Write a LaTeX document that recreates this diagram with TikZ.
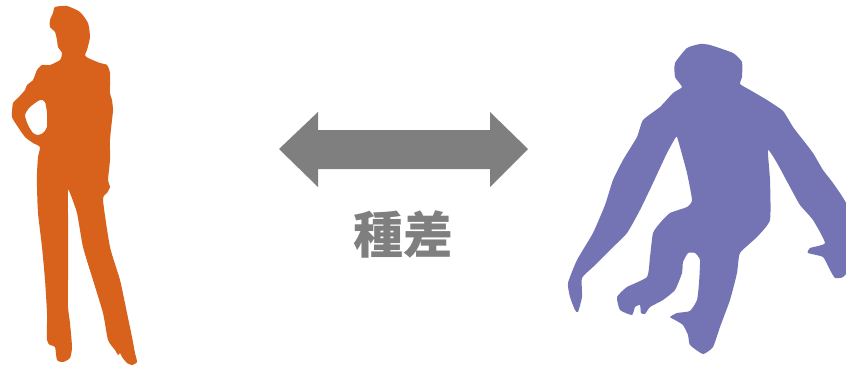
\documentclass[tikz,border=0pt]{standalone}
\usepackage{fontspec}
\newfontfamily\cjk{Noto Sans CJK JP}
\begin{document}
\begin{tikzpicture}[x=1pt,y=-1pt,
  woman/.style={fill=womanorange,draw=none},
  ape/.style={fill=apepurple,draw=none},
  arrowshape/.style={fill=arrowgray,draw=none},
  label/.style={text=arrowgray,font=\cjk\bfseries\fontsize{50}{50}\selectfont,inner sep=0pt}]
\definecolor{womanorange}{HTML}{D8621B}
\definecolor{apepurple}{HTML}{7473B3}
\definecolor{arrowgray}{HTML}{7F7F7F}
\useasboundingbox (0,0) rectangle (846,367);

% standing woman, hand on hip
\fill[woman,even odd rule] plot[smooth cycle,tension=0.35] coordinates {
  (55,7) (67,6) (80,12) (88,23) (90,37) (87,50) (85,55) (88,58) (100,63)
  (107,65) (110,73) (110,93) (112,100) (113,110) (112,120) (110,140)
  (110,160) (108,180) (110,187) (107,193) (103,200) (110,247) (120,280)
  (127,313) (132,337) (135,353) (137,362) (132,365) (127,363) (122,357)
  (120,353) (118,355) (115,350) (108,340) (103,313) (93,280) (83,247)
  (77,213) (70,193) (68,190) (68,213) (68,247) (68,280) (68,307) (70,323)
  (72,347) (70,358) (63,362) (57,360) (55,347) (50,345) (47,340) (47,313)
  (45,280) (42,247) (38,213) (37,187) (37,173) (38,157) (40,147) (33,143)
  (25,137) (18,127) (12,117) (13,103) (18,98) (25,90) (27,85) (33,80)
  (37,70) (42,65) (50,65) (60,60) (62,53) (58,47) (57,40) (55,32) (50,27)
  (50,20) (53,13)}
  plot[smooth cycle,tension=0.4] coordinates {
  (25,115) (30,107) (40,100) (45,102) (47,113) (47,127) (43,133) (38,135)
  (33,133) (28,125)};

% chimpanzee, crouching
\fill[ape] plot[smooth cycle,tension=0.3] coordinates {
  (687,48) (700,44) (710,45) (733,53) (742,62) (742,77) (740,84) (750,90)
  (767,100) (783,111) (793,127) (803,140) (813,153) (823,170) (833,183)
  (846,203) (852,230) (852,265) (843,277) (835,278) (830,270) (823,257)
  (808,253) (810,248) (825,243) (813,220) (800,205) (790,187) (777,163)
  (768,150) (770,180) (770,220) (757,237) (740,253) (737,273) (730,300)
  (720,327) (713,347) (703,354) (690,345) (688,335) (683,325) (675,320)
  (670,317) (677,313) (690,311) (697,300) (699,283) (700,260) (695,253)
  (688,253) (683,262) (682,273) (675,290) (663,300) (650,307) (645,314)
  (641,313) (640,305) (635,307) (632,315) (620,310) (617,297) (627,287)
  (647,277) (650,257) (653,233) (660,223) (670,213) (687,207) (692,200)
  (687,173) (678,140) (676,137) (667,153) (653,183) (640,210) (627,233)
  (610,250) (593,267) (582,278) (582,297) (578,312) (575,310) (570,297)
  (568,283) (577,260) (593,233) (605,205) (613,180) (623,160) (637,137)
  (643,120) (660,107) (673,93) (682,87) (675,77) (675,63)};

% double-headed arrow
\coordinate (lt) at (279,149);
\coordinate (rt) at (528,149);
\fill[arrowshape] (lt) -- (318,112) -- (318,130) -- (490,130) -- (490,112)
  -- (rt) -- (490,187) -- (490,169) -- (318,169) -- (318,187) -- cycle;

\node[label] (diff) at (403,234) {種差};
\end{tikzpicture}
\end{document}
